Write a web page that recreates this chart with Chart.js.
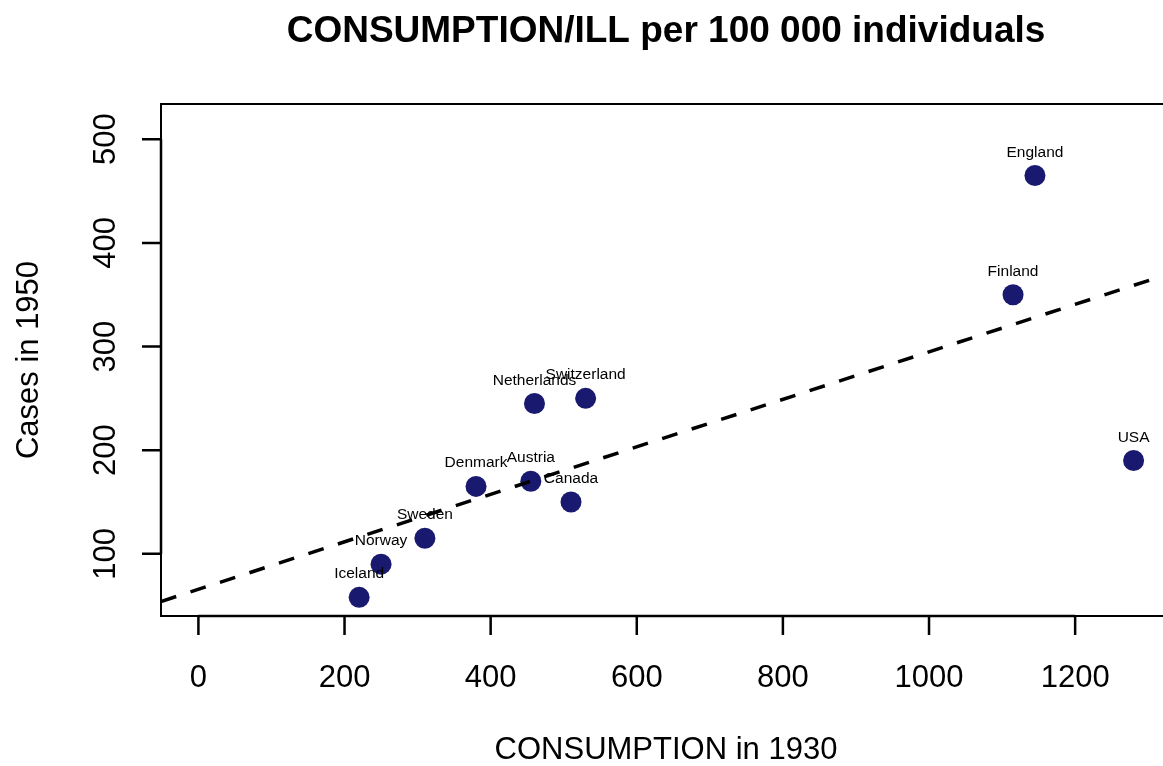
<!DOCTYPE html>
<html>
<head>
<meta charset="utf-8">
<script src="https://cdn.jsdelivr.net/npm/chart.js@4.4.1/dist/chart.umd.min.js"></script>
<style>
  html, body { margin: 0; padding: 0; background: #fff; overflow: hidden; }
  #wrap { width: 1175px; height: 766px; }
  canvas { display: block; }
</style>
</head>
<body>
<div id="wrap"><canvas id="chart" width="1175" height="766"></canvas></div>
<script>
// data
var countries = ["Iceland", "Norway", "Sweden", "Denmark", "Austria", "Canada", "Netherlands", "Switzerland", "Finland", "England", "USA"];
var consumption = [220, 250, 310, 380, 455, 510, 460, 530, 1115, 1145, 1280];
var cases = [58, 90, 115, 165, 170, 150, 245, 250, 350, 465, 190];

var xTicks = [0, 200, 400, 600, 800, 1000, 1200];
var yTicks = [100, 200, 300, 400, 500];

var FONT = '"Liberation Sans", Arial, sans-serif';
var DOT = '#191970';

var points = [];
for (var i = 0; i < countries.length; i++) {
    points.push({x: consumption[i], y: cases[i]});
}

// least squares fit, like abline(lm(cases ~ consumption))
function fitLine(xs, ys) {
    var n = xs.length, mx = 0, my = 0;
    for (var i = 0; i < n; i++) { mx += xs[i]; my += ys[i]; }
    mx /= n; my /= n;
    var sxy = 0, sxx = 0;
    for (var i = 0; i < n; i++) {
        sxy += (xs[i] - mx) * (ys[i] - my);
        sxx += (xs[i] - mx) * (xs[i] - mx);
    }
    var b = sxy / sxx;
    return {a: my - b * mx, b: b};
}

var xMin = -51.2, xMax = 1331.2;
var yMin = 40, yMax = 534;
var fit = fitLine(consumption, cases);
var fitPoints = [
    {x: xMin, y: fit.a + fit.b * xMin},
    {x: xMax, y: fit.a + fit.b * xMax}
];

// R style box, axes, tick labels, titles and point labels
var rDecor = {
    id: 'rDecor',
    afterDatasetsDraw: function(chart) {
        var ctx = chart.ctx;
        var area = chart.chartArea;
        var xs = chart.scales.x, ys = chart.scales.y;
        ctx.save();

        // point labels
        ctx.fillStyle = '#000';
        ctx.font = '15.5px ' + FONT;
        ctx.textAlign = 'center';
        ctx.textBaseline = 'alphabetic';
        for (var i = 0; i < countries.length; i++) {
            ctx.fillText(countries[i], xs.getPixelForValue(consumption[i]), ys.getPixelForValue(cases[i]) - 19);
        }

        // box (its right side falls just past the visible window, as in the original)
        ctx.strokeStyle = '#000';
        ctx.lineWidth = 2;
        ctx.strokeRect(area.left, area.top, area.right - area.left, area.bottom - area.top);

        // x axis
        var x0 = xs.getPixelForValue(xTicks[0]), x1 = xs.getPixelForValue(xTicks[xTicks.length - 1]);
        ctx.lineWidth = 2.5;
        ctx.beginPath();
        ctx.moveTo(x0, area.bottom);
        ctx.lineTo(x1, area.bottom);
        xTicks.forEach(function(t) {
            var px = xs.getPixelForValue(t);
            ctx.moveTo(px, area.bottom);
            ctx.lineTo(px, area.bottom + 19);
        });
        // y axis
        var y0 = ys.getPixelForValue(yTicks[0]), y1 = ys.getPixelForValue(yTicks[yTicks.length - 1]);
        ctx.moveTo(area.left, y0);
        ctx.lineTo(area.left, y1);
        yTicks.forEach(function(t) {
            var py = ys.getPixelForValue(t);
            ctx.moveTo(area.left, py);
            ctx.lineTo(area.left - 19, py);
        });
        ctx.stroke();

        ctx.font = '31px ' + FONT;
        ctx.textAlign = 'center';
        xTicks.forEach(function(t) {
            ctx.fillText(String(t), xs.getPixelForValue(t), 687);
        });
        yTicks.forEach(function(t) {
            ctx.save();
            ctx.translate(115, ys.getPixelForValue(t));
            ctx.rotate(-Math.PI / 2);
            ctx.fillText(String(t), 0, 0);
            ctx.restore();
        });

        // axis titles
        var cx = (area.left + area.right) / 2;
        ctx.fillText('CONSUMPTION in 1930', cx, 759);
        ctx.save();
        ctx.translate(38, (area.top + area.bottom) / 2);
        ctx.rotate(-Math.PI / 2);
        ctx.fillText('Cases in 1950', 0, 0);
        ctx.restore();

        // main title
        ctx.font = 'bold 37px ' + FONT;
        ctx.fillText('CONSUMPTION/ILL per 100 000 individuals', cx, 42);

        ctx.restore();
    }
};

new Chart(document.getElementById('chart'), {
    type: 'scatter',
    data: {
        datasets: [{
            label: 'fit',
            data: fitPoints,
            showLine: true,
            borderColor: '#000',
            borderWidth: 3.5,
            borderDash: [16, 15],
            pointRadius: 0,
            fill: false,
            order: 0
        }, {
            label: 'countries',
            data: points,
            backgroundColor: DOT,
            borderWidth: 0,
            pointRadius: 10.5,
            pointHoverRadius: 10.5,
            order: 1
        }]
    },
    options: {
        responsive: false,
        animation: false,
        events: [],
        layout: {
            autoPadding: false,
            padding: {left: 161, top: 104, right: 4, bottom: 150}
        },
        plugins: {
            legend: {display: false},
            tooltip: {enabled: false},
            title: {display: false}
        },
        scales: {
            x: {type: 'linear', min: xMin, max: xMax, display: false},
            y: {type: 'linear', min: yMin, max: yMax, display: false}
        }
    },
    plugins: [rDecor]
});
</script>
</body>
</html>
